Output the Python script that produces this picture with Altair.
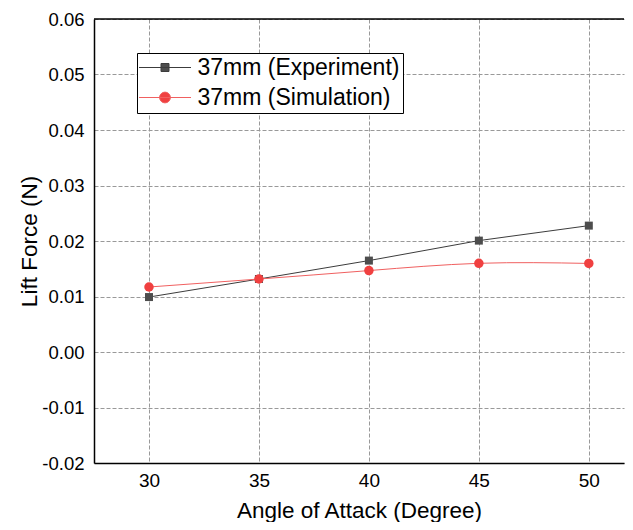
import altair as alt
import pandas as pd

# ---- data ----
angles = [30, 35, 40, 45, 50]
exp_vals = [0.0099, 0.01315, 0.01647, 0.02007, 0.02277]
sim_vals = [0.01171, 0.01315, 0.01467, 0.01598, 0.01596]
series_names = ["37mm (Experiment)", "37mm (Simulation)"]
x_ticks = [30, 35, 40, 45, 50]
y_ticks = [-0.02, -0.01, 0.0, 0.01, 0.02, 0.03, 0.04, 0.05, 0.06]

marker_colors = ["#4d4d4d", "#f04040"]
line_colors = ["#3c3c3c", "#f06060"]

FONT = "Liberation Sans"
W, H = 530, 444

df = pd.DataFrame({
    "angle": angles * 2,
    "lift": exp_vals + sim_vals,
    "series": [series_names[0]] * len(angles) + [series_names[1]] * len(angles),
})

x_enc = alt.X(
    "angle:Q",
    scale=alt.Scale(domain=[27.5, 51.6], nice=False, zero=False),
    axis=alt.Axis(
        values=x_ticks, title="Angle of Attack (Degree)",
        labelFontSize=19, labelFont=FONT, labelColor="black",
        labelBaseline="alphabetic", labelPadding=23,
        ticks=False, tickSize=0,
        domainColor="black", domainWidth=1.5,
        grid=True, gridColor="#999999", gridDash=[4, 2], gridWidth=1,
        titleFont=FONT, titleFontSize=22.5, titleFontWeight="normal", titleColor="black",
        titleBaseline="alphabetic", titleY=54.5,
    ),
)
y_enc = alt.Y(
    "lift:Q",
    scale=alt.Scale(domain=[-0.02, 0.06], nice=False, zero=False),
    axis=alt.Axis(
        values=y_ticks, title="Lift Force (N)",
        labelExpr="datum.value < -0.000001 ? '-' + format(-datum.value, '.2f') : format(abs(datum.value), '.2f')",
        labelFontSize=18.5, labelFont=FONT, labelColor="black", labelPadding=10,
        ticks=False, tickSize=0,
        domainColor="black", domainWidth=1.5,
        grid=True, gridColor="#999999", gridDash=[4, 2], gridWidth=1,
        titleFont=FONT, titleFontSize=22.5, titleFontWeight="normal", titleColor="black",
        titleBaseline="alphabetic", titleX=-58,
    ),
)

# legend symbols: a line segment with the marker in its middle
sq_path = "M-6.5,0H6.5M-1,-1H1V1H-1Z"
ci_path = "M-6.5,0H6.5M1.35,0A1.35,1.35,0,1,1,-1.35,0A1.35,1.35,0,1,1,1.35,0Z"

legend = alt.Legend(
    title=None, orient="none", legendX=43, legendY=34, direction="vertical",
    padding=3, strokeColor="black", fillColor="white", cornerRadius=0,
    labelFont=FONT, labelFontSize=23, labelColor="black", labelLimit=500,
    labelOffset=21, symbolOffset=13.5, symbolSize=64, symbolStrokeWidth=1,
    symbolOpacity=1, rowPadding=6,
)

base = alt.Chart(df)

line_exp = base.transform_filter(
    alt.datum.series == series_names[0]
).mark_line(color=line_colors[0], strokeWidth=1).encode(x=x_enc, y=y_enc)

line_sim = base.transform_filter(
    alt.datum.series == series_names[1]
).mark_line(color=line_colors[1], strokeWidth=1, interpolate="natural").encode(x=x_enc, y=y_enc)

pts_exp = base.transform_filter(
    alt.datum.series == series_names[0]
).mark_point(shape="square", size=64, filled=True, opacity=1, color=marker_colors[0]).encode(x=x_enc, y=y_enc)

pts_sim = base.transform_filter(
    alt.datum.series == series_names[1]
).mark_point(shape="circle", size=90, filled=True, opacity=1, color=marker_colors[1]).encode(x=x_enc, y=y_enc)

# legend-only layer (no items drawn: its data is filtered out)
legend_layer = base.transform_filter("false").mark_point(
    filled=True, opacity=1, size=64, strokeWidth=1
).encode(
    x=x_enc, y=y_enc,
    color=alt.Color("series:N", scale=alt.Scale(domain=series_names, range=marker_colors), legend=legend),
    stroke=alt.Stroke("series:N", scale=alt.Scale(domain=series_names, range=line_colors), legend=legend),
    shape=alt.Shape("series:N", scale=alt.Scale(domain=series_names, range=[sq_path, ci_path]), legend=legend),
)

top_border = alt.Chart(alt.Data(values=[{}])).mark_rule(color="black", strokeWidth=1.5).encode(
    x=alt.value(0), x2=alt.value(W), y=alt.value(0)
)

chart = alt.layer(line_exp, pts_exp, line_sim, pts_sim, legend_layer, top_border).properties(
    width=W, height=H,
    autosize=alt.AutoSizeParams(type="none"),
    padding={"left": 86, "top": 11, "right": 1, "bottom": 59},
    background="white",
).configure_view(stroke=None)

chart.save("out.html", embed_options={"renderer": "svg", "actions": False})
